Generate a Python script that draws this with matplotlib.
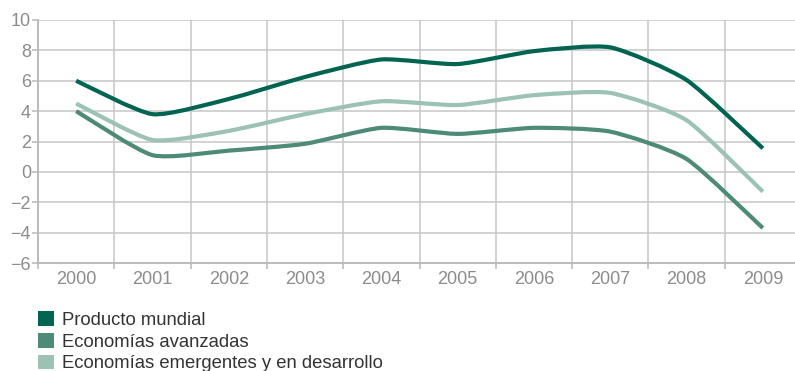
import numpy as np
import matplotlib.pyplot as plt
from matplotlib.path import Path
from matplotlib.patches import PathPatch, Patch

plt.rcParams['font.family'] = ['Liberation Sans', 'DejaVu Sans']

years = ['2000', '2001', '2002', '2003', '2004', '2005', '2006', '2007', '2008', '2009']
producto_mundial = [6.0, 3.8, 4.8, 6.25, 7.4, 7.1, 7.95, 8.2, 6.05, 1.55]
economias_avanzadas = [4.0, 1.1, 1.4, 1.85, 2.9, 2.5, 2.9, 2.65, 0.85, -3.7]
economias_emergentes = [4.5, 2.1, 2.7, 3.8, 4.65, 4.4, 5.05, 5.2, 3.4, -1.3]

series = [
    ('Producto mundial', producto_mundial, '#006450'),
    ('Economías avanzadas', economias_avanzadas, '#4d8a78'),
    ('Economías emergentes y en desarrollo', economias_emergentes, '#9bc2b3'),
]


def smooth_path(x, y, k=0.1):
    # catmull-rom style bezier through the data points
    pts = np.column_stack([x, y]).astype(float)
    ext = np.vstack([pts[0], pts, pts[-1]])
    verts = [pts[0]]
    codes = [Path.MOVETO]
    for i in range(len(pts) - 1):
        p0, p1, p2, p3 = ext[i], ext[i + 1], ext[i + 2], ext[i + 3]
        verts += [p1 + (p2 - p0) * k, p2 - (p3 - p1) * k, p2]
        codes += [Path.CURVE4] * 3
    return Path(verts, codes)


fig = plt.figure(figsize=(7.95, 3.71), dpi=100)
ax = fig.add_axes([38 / 795, 108 / 371, 763 / 795, 243 / 371])

grid_c = '#c6c6c8'
x = np.arange(len(years))
for label, vals, color in series:
    ax.add_patch(PathPatch(smooth_path(x, vals), fill=False, edgecolor=color,
                           lw=3.0, capstyle='butt', joinstyle='round', zorder=3))

ax.set_xlim(-0.5, len(years) - 0.5)
ax.set_ylim(-6, 10)
ax.set_yticks(range(-6, 11, 2))
ax.set_xticks(x)
ax.set_xticklabels(years)
ax.set_xticks(np.arange(-0.5, len(years)), minor=True)

ax.grid(True, which='major', axis='y', color=grid_c, lw=1.1)
ax.grid(True, which='minor', axis='x', color=grid_c, lw=1.1)
ax.set_axisbelow(True)

for s in ['top', 'right']:
    ax.spines[s].set_visible(False)
for s in ['left', 'bottom']:
    ax.spines[s].set_color('#b8b8ba')
    ax.spines[s].set_linewidth(1.3)

ax.tick_params(axis='y', which='major', length=4, width=1.1, color='#b8b8ba',
               labelsize=13, labelcolor='#8c8c8c', pad=1)
ax.tick_params(axis='x', which='major', length=0, labelsize=13,
               labelcolor='#8c8c8c', pad=6)
ax.tick_params(axis='x', which='minor', length=4, width=1.1, color='#b8b8ba')

handles = [Patch(facecolor=c, edgecolor='none', label=l) for l, _, c in series]
fig.legend(handles=handles, loc='upper left', bbox_to_anchor=(38 / 795, 1 - 311 / 371),
           frameon=False, fontsize=13.3, handlelength=0.85, handleheight=0.85,
           handletextpad=0.45, labelspacing=0.22, borderaxespad=0, borderpad=0,
           labelcolor='#333333')

fig.savefig('out.png', dpi=100)
